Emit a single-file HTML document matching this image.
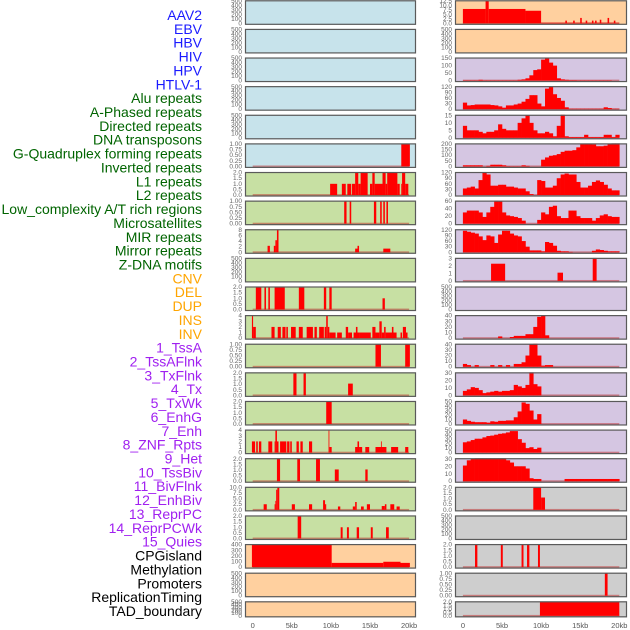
<!DOCTYPE html>
<html><head><meta charset="utf-8"><style>
html,body{margin:0;padding:0;background:#fff;}
svg{display:block;font-family:"Liberation Sans",sans-serif;}
</style></head><body>
<svg id="chart" width="630" height="630" viewBox="0 0 630 630" xmlns="http://www.w3.org/2000/svg"></svg>
<script>
// ---------- data ----------
const labels = ["AAV2","EBV","HBV","HIV","HPV","HTLV-1","Alu repeats","A-Phased repeats","Directed repeats","DNA transposons","G-Quadruplex forming repeats","Inverted repeats","L1 repeats","L2 repeats","Low_complexity A/T rich regions","Microsatellites","MIR repeats","Mirror repeats","Z-DNA motifs","CNV","DEL","DUP","INS","INV","1_TssA","2_TssAFlnk","3_TxFlnk","4_Tx","5_TxWk","6_EnhG","7_Enh","8_ZNF_Rpts","9_Het","10_TssBiv","11_BivFlnk","12_EnhBiv","13_ReprPC","14_ReprPCWk","15_Quies","CPGisland","Methylation","Promoters","ReplicationTiming","TAD_boundary"];
const labelGroups = [6,13,5,15,5];
const xTicks = [0,5,10,15,20];
const xTickLabels = ["0","5kb","10kb","15kb","20kb"];

// left column segments [startKb, endKb, value]
const leftG4 = [[19.0,20.1,1]];
const leftL1 = [[9.9,10.8,1],[11.4,11.9,1],[12.1,12.6,1],[12.7,13.1,1],[13.1,13.5,2],[13.5,13.8,1],[13.8,14.7,2],[15.0,15.3,1],[15.3,15.6,2],[15.6,16.6,1],[16.6,17.0,2],[17.0,17.2,1],[17.2,18.5,2],[18.5,18.8,1],[19.0,19.1,1],[19.1,19.5,2],[19.5,19.9,1]];
const leftLowCx = [[11.7,12.0,1],[12.4,12.6,1],[15.5,15.8,1],[16.3,16.5,1],[16.7,16.9,1],[17.1,17.3,1]];
const leftMIR = [[1.9,2.2,2.3],[2.7,2.9,2.3],[2.9,3.1,4.3],[3.1,3.3,8.2],[13.1,13.4,1.3],[13.4,13.6,2.3],[16.7,17.6,1.3]];
const leftDEL = [[0.4,1.1,2],[1.5,1.7,2],[2.0,2.2,2],[2.8,4.1,2],[5.9,6.6,2],[9.1,9.4,2],[9.8,10.1,2],[16.6,16.9,1]];
const leftINS = [[-0.1,0.05,4],[0.05,0.4,2],[2.4,2.8,2],[3.2,3.6,2],[3.8,4.2,2],[4.3,4.5,2],[4.9,5.5,2],[5.9,6.4,2],[6.9,7.7,2],[7.9,8.2,2],[8.5,9.1,2],[9.2,9.4,2],[9.4,9.6,4],[9.6,9.8,2],[9.8,10.6,1],[10.8,11.4,1],[11.9,12.2,2],[12.2,12.7,1],[12.9,13.6,1],[13.2,13.4,2],[13.6,15.1,1],[15.3,15.7,2],[15.7,16.2,1],[16.2,16.5,3],[16.5,16.8,1],[16.8,17.0,2],[17.0,18.4,1],[17.8,18.0,2],[18.9,19.1,1],[19.2,19.6,2],[19.6,19.8,1]];
const leftTssA = [[15.7,16.4,1],[19.5,20.1,1]];
const leftTxFlnk = [[5.2,5.6,2],[6.5,6.8,2],[12.2,12.8,1.05]];
const leftTxWk = [[9.4,10.1,2]];
const leftEnh = [[-0.1,0.3,2],[0.45,0.65,2],[0.8,1.1,2],[2.0,2.5,2],[2.8,2.9,2],[2.9,3.1,4],[3.1,3.3,2],[3.5,4.3,2],[4.4,4.7,2],[4.8,5.0,2],[5.6,5.9,2],[6.1,6.4,2],[7.2,7.6,2],[9.7,9.8,4],[9.8,10.1,1],[13.1,13.4,1],[13.4,13.6,2],[13.6,14.0,1],[14.4,14.9,1],[15.7,17.1,1],[16.4,16.5,2],[17.7,18.6,1],[19.5,19.9,1]];
const leftHet = [[3.1,3.5,2],[5.7,6.05,2],[8.1,8.6,2],[10.5,11.0,1.05],[14.4,14.7,1.05]];
const leftBivFlnk = [[1.4,1.8,2.5],[2.8,2.9,2.5],[2.9,3.0,4],[3.0,3.15,9],[3.15,3.4,10],[5.0,5.4,2.5],[7.2,7.6,2.5],[9.0,9.25,4.3],[9.25,9.4,2.5],[10.9,11.2,1.5],[12.8,13.1,1.5],[13.1,13.3,3.5],[13.85,14.2,1.5],[14.6,15.0,2.5],[16.5,16.9,1.7],[16.9,17.1,2.5],[17.6,18.1,2.5],[18.4,18.8,1.5]];
const leftReprPC = [[5.75,6.2,2],[11.25,11.5,1],[12.05,12.3,1],[13.3,13.6,1],[15.1,15.35,1],[17.05,17.4,1]];
const leftCpG = [[-0.1,10.1,400],[10.1,16.7,75],[16.7,18.9,95],[18.9,20.1,75]];

// right column: 40 bins of 0.5kb (0-20kb)
const rightHIV = [2,2,2,2,5,2,2,2,2,2,2,2,2,2,5,8,15,35,70,75,140,160,120,100,15,8,5,3,3,2,2,2,2,2,2,2,2,2,0,0];
const rightAlu = [35,20,22,25,25,25,25,22,20,15,8,20,20,25,30,40,55,75,75,30,15,110,120,80,60,45,10,2,2,2,2,2,2,2,2,2,10,6,2,2];
const rightDirected = [8,5,5,5,4,3,4,4,5,9,6,5,5,5,10,13,15,10,5,3,3,4,3,1,8,19,1,0.5,0.5,0.5,0.5,2,0.5,0.5,0.5,0.5,2,2,0.5,2];
const rightG4 = [10,10,10,10,10,0,5,15,15,15,10,3,2,2,2,10,5,0,0,0,60,80,95,100,110,130,140,140,145,170,200,205,200,195,180,180,185,200,215,220];
const rightL1 = [35,40,45,35,80,120,110,50,50,55,55,45,45,40,35,35,20,5,0,80,75,40,40,50,90,110,115,110,110,70,40,40,50,70,78,70,55,35,25,25];
const rightLowCx = [30,35,35,35,30,18,30,45,68,60,30,22,20,18,15,8,0,0,0,10,30,25,45,48,20,15,15,35,35,20,15,15,15,8,15,22,25,20,18,18];
const rightMIR = [115,110,105,100,85,65,90,85,50,95,115,115,100,90,85,60,30,10,10,10,5,55,50,35,8,5,5,2,0,0,0,0,0,8,15,12,8,5,5,5];
const rightINS = [0,0,0,0,0,0,0,0,0,3,0,0,2,4,4,4,7,7,20,38,42,5,0,0,0,0,0,0,0,0,0,0,0,0,0,0,0,0,0,0];
const rightTssA = [5,3,0,3,0,0,0,3,0,3,0,3,0,5,5,8,20,40,45,20,2,3,3,0,0,0,0,0,0,0,0,0,0,0,0,0,0,0,0,0];
const rightTxFlnk = [6,8,11,10,7,3,4,5,6,5,6,6,7,14,12,10,14,33,15,12,0,0,0,0,0,0,0,0,0,0,0,0,0,0,0,0,0,0,0,0];
const rightEnhG = [10,7,5,4,4,4,3,6,5,7,7,8,8,15,28,48,45,30,10,22,0,0,0,0,0,0,0,0,0,0,0,0,0,0,0,0,0,0,0,0];
const rightZNF = [23,25,28,31,31,34,37,38,40,42,43,45,48,48,30,22,10,12,8,11,0,0,0,0,0,0,0,0,0,0,0,0,0,0,0,0,0,0,0,0];
const rightHet = [21,28,30,33,35,36,36,34,33,32,32,28,25,20,20,20,17,4,3,3,0,0,0,0,0,0,3,3,3,3,3,3,3,3,3,3,3,3,3,3];
// right column segments
const rightAAV2 = [[0,2.9,8],[2.9,3.3,12.5],[3.3,8.0,8],[8.0,10.0,7],[10.0,20.0,0.3],[13.1,13.3,1.5],[14.1,14.3,1.5],[15.0,15.2,3],[15.7,15.9,1.5],[16.5,16.7,1.5],[16.9,17.1,1.5],[17.5,17.7,2],[18.5,18.7,3],[19.3,19.5,1.5]];
const rightZDNA = [[3.6,5.4,2.3],[12.1,12.8,1.1],[16.6,17.1,3.1]];
const rightBivFlnk = [[9.0,10.0,2],[10.0,10.5,1.1]];
const rightCpG = [[1.55,1.85,2],[4.85,5.1,2],[7.5,7.75,2],[8.2,8.5,2],[9.6,9.85,2]];
const rightMeth = [[18.15,18.5,1]];
const rightTAD = [[9.85,20.0,2]];

// y tick sets
const ticksEmpty = [0,100,200,300,400,500];
const ticks1 = [0,0.25,0.5,0.75,1];
const ticks2 = [0,0.5,1,1.5,2];
const ticks3 = [0,1,2,3];
const ticks4 = [0,1,2,3,4];
const ticks8 = [0,2,4,6,8];
const ticks10 = [0,2.5,5,7.5,10];
const ticks12 = [0,2.5,5,7.5,10,12.5];
const ticks15 = [0,5,10,15];
const ticks30 = [0,10,20,30];
const ticks40 = [0,10,20,30,40];
const ticks50 = [0,10,20,30,40,50];
const ticks60 = [0,20,40,60];
const ticks120 = [0,30,60,90,120];
const ticks150 = [0,50,100,150];
const ticks200 = [0,50,100,150,200];
const ticks400 = [0,100,200,300,400];

const BLUE="#c7e3eb", PEACH="#ffd09f", LAV="#d5c6e2", GREEN="#c7e0a3", GREY="#cecece";
// [bg, ticks, segs, bins, decimals]
const leftPanels = [
 [BLUE,ticksEmpty,null,null,0],[BLUE,ticksEmpty,null,null,0],[BLUE,ticksEmpty,null,null,0],
 [BLUE,ticksEmpty,null,null,0],[BLUE,ticksEmpty,null,null,0],[BLUE,ticks1,leftG4,null,2],
 [GREEN,ticks2,leftL1,null,1],[GREEN,ticks1,leftLowCx,null,2],[GREEN,ticks8,leftMIR,null,0],
 [GREEN,ticksEmpty,null,null,0],[GREEN,ticks2,leftDEL,null,1],[GREEN,ticks4,leftINS,null,0],
 [GREEN,ticks1,leftTssA,null,2],[GREEN,ticks2,leftTxFlnk,null,1],[GREEN,ticks2,leftTxWk,null,1],
 [GREEN,ticks4,leftEnh,null,0],[GREEN,ticks2,leftHet,null,1],[GREEN,ticks10,leftBivFlnk,null,1],
 [GREEN,ticks2,leftReprPC,null,1],[PEACH,ticks400,leftCpG,null,0],[PEACH,ticksEmpty,null,null,0],[PEACH,ticksEmpty,null,null,0]
];
const rightPanels = [
 [PEACH,ticks12,rightAAV2,null,1],[PEACH,ticksEmpty,null,null,0],[LAV,ticks150,null,rightHIV,0],
 [LAV,ticks120,null,rightAlu,0],[LAV,ticks15,null,rightDirected,0],[LAV,ticks200,null,rightG4,0],
 [LAV,ticks120,null,rightL1,0],[LAV,ticks60,null,rightLowCx,0],[LAV,ticks120,null,rightMIR,0],
 [LAV,ticks3,rightZDNA,null,0],[LAV,ticksEmpty,null,null,0],[LAV,ticks40,null,rightINS,0],
 [LAV,ticks40,null,rightTssA,0],[LAV,ticks30,null,rightTxFlnk,0],[LAV,ticks50,null,rightEnhG,0],
 [LAV,ticks50,null,rightZNF,0],[LAV,ticks30,null,rightHet,0],[GREY,ticks2,rightBivFlnk,null,1],
 [GREY,ticksEmpty,null,null,0],[GREY,ticks2,rightCpG,null,1],[GREY,ticks1,rightMeth,null,2],[GREY,ticks2,rightTAD,null,1]
];

// ---------- drawing ----------
const svg = document.getElementById('chart');
const NS = "http://www.w3.org/2000/svg";
function mk(tag, attrs, parent){ const e=document.createElementNS(NS,tag); for(const k in attrs) e.setAttribute(k,attrs[k]); (parent||svg).appendChild(e); return e; }

// labels
const groupColors = ["#1a1aff","#006400","#ffa500","#a020f0","#000000"];
let li=0;
labelGroups.forEach((n,g)=>{ for(let j=0;j<n;j++){ const t=mk('text',{x:202,y:20+li*13.86,'text-anchor':'end','font-size':'14',fill:groupColors[g]}); t.textContent=labels[li];
 
  li++; } });

const PXKB = 7.82;
const cols = [{x:245,w:171,k0:252.7,panels:leftPanels,name:'left'},{x:455,w:172,k0:462.9,panels:rightPanels,name:'right'}];
const defsEl = mk('defs',{});
cols.forEach(col=>{
 const xs = kb => col.k0 + kb*PXKB;
 col.panels.forEach((p,i)=>{
  const top = 28.62*i + 0.3;
  const h = i===21 ? 16 : 24.5;
  const [bg,ticks,segs,bins,dec] = p;
  const g = mk('g',{});
  
  
  const cid = 'clip-'+col.name+i;
  const cp = mk('clipPath',{id:cid},defsEl); mk('rect',{x:col.x,y:top,width:col.w,height:h},cp);
  const bgr = mk('rect',{x:col.x,y:top,width:col.w,height:h,fill:bg},g);
  
  
  const tmax = ticks[ticks.length-1];
  const y0 = top + h - 1.5, y1 = top + 0.6;
  const ys = v => y0 - (v/tmax)*(y0-y1);
  const marks = mk('g',{'clip-path':'url(#'+cid+')'},g);
  if(segs||bins){
   const bl = mk('rect',{x:xs(0),y:y0-0.9,width:20*PXKB,height:1.8,fill:'rgba(190,40,40,0.5)'},marks);
   
   
  }
  if(segs){ segs.forEach(s=>{ const r=mk('rect',{x:xs(s[0]),y:ys(s[2]),width:Math.max(0.8,xs(s[1])-xs(s[0])),height:Math.max(0,y0-ys(s[2])),fill:'#ff0000'},marks);
   
    }); }
  if(bins){ bins.forEach((v,k)=>{ if(v<=0) return; const r=mk('rect',{x:xs(k*0.5),y:ys(v),width:0.5*PXKB+0.3,height:y0-ys(v),fill:'#ff0000'},marks);
   
    }); }
  const br = mk('rect',{x:col.x+0.5,y:top+0.5,width:col.w-1,height:h-1,fill:'none',stroke:'#5a5a5a','stroke-width':'1.2'},g);
  
  
  ticks.forEach(tv=>{ const t=mk('text',{x:col.x-3,y:ys(tv)+2,'text-anchor':'end','font-size':'6.5',fill:'#666'},g);
   t.textContent = tv.toFixed(dec);
   
    });
 });
 xTicks.forEach((kb,j)=>{ const t=mk('text',{x:xs(kb),y:628,'text-anchor':'middle','font-size':'7.5',fill:'#555'});
  t.textContent = xTickLabels[j];
  
   });
});
</script>
</body></html>
